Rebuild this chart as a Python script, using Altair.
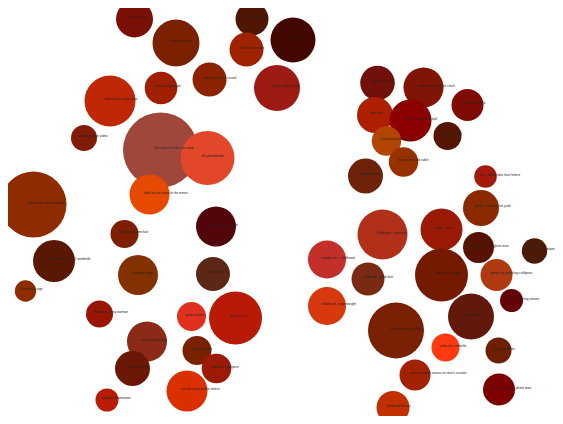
import altair as alt
import pandas as pd

# objects from Amélie, placed (pixel coords of the page)
labels = [
    "mother's urn", "mother's purse", "father's garden", "father's tool kit",
    "father's suitcase", "bobet biscuit tin reveal", "father's table bench",
    "palace video tape", "walls of the peep show", "waiting palace video",
    "the concert in the sex shop", "the photobooth", "label on the wood in the metro",
    "table at the two windmills", "photo in the station", "Collignon's armchair",
    "cigarette booth at 2 windmills", "costume shop", "café coffee", "2 windmills sign",
    "Bretodeau's toy woman", "pasta shakers", "grocer's fruit", "nino's bicycle bag",
    "book of poetry", "collignon's peppers", "nino's pajamas",
    "tea for chatting love letters", "collignon's tomatoes",
    "kitchen floor", "amélie's living room clock", "living room table", "front door",
    "amélie's bedroom wall", "bathroom wall", "living room wallpaper",
    "living room side table", "bedroom walls", "zip - writing fake love letters",
    "jacket - montmartre park", "childhood - swimsuit", "toilet - work",
    "sweater - with glass man", "hat at train station", "raspberries - childhood",
    "amélie's cardigan", "childhood - plaid skirt", "gloves for pranking collignon",
    "childhood - paperweight", "dress - skipping stones", "lace blouse",
    "amélie's beating heart", "polka dot umbrella", "striped sweater",
    "sweater amélie wears on nino's scooter", "beret - chasing photo man",
    "buttoned blouse",
]
xs = [134.5, 176, 252, 293, 246.5, 209.5, 277, 161, 110, 84, 160.5, 207.5, 149.5,
      33.5, 216, 124.5, 54, 138, 213, 25.5, 99.5, 191.5, 235.5, 147, 197, 216.5,
      132.5, 187, 107,
      377.5, 423.5, 467.5, 375, 410.5, 447.5, 386.5, 403.5, 365.5, 485.5, 481,
      382.5, 441.5, 478.5, 534.5, 327, 441.5, 368, 496.5, 327, 511.5, 471, 396,
      445.5, 498.5, 415, 499, 393]
ys = [19, 43, 19, 40, 49.5, 79.5, 88, 88, 101, 138, 150, 158, 194.5, 204.5, 226.5,
      234, 261, 275, 274, 291, 314, 316.5, 318, 341.5, 350.5, 368.5, 368.5, 391, 400,
      83, 87.5, 105, 115, 120.5, 136, 141, 162, 176, 176.5, 208, 234.5, 229.5,
      247.5, 251, 259.5, 275, 279, 275, 306, 300.5, 316.5, 330.5, 347.5, 350.5,
      375, 389.5, 407.5]
radii = [18.5, 23.5, 16.5, 22.5, 17, 17, 23, 16.3, 25.5, 13, 37.5, 27, 20, 33, 20,
         14, 21, 20, 17, 10.7, 13.5, 14.5, 26.5, 20, 14.5, 14.8, 17.5, 20.5, 11.5,
         17.3, 20, 16, 18, 21, 14, 14.7, 14.7, 17.5, 11.3, 18, 25, 21, 15.5, 12.7,
         19, 26.5, 16.5, 16, 19, 11.5, 23, 28, 14, 13, 15.5, 16, 16.5]
colours = ["#7a0f05", "#7b2000", "#4f1602", "#420800", "#a02300", "#8c2200",
           "#9c1a12", "#9f2000", "#c02707", "#801b05", "#a0473c", "#e2472a",
           "#e64a00", "#8e2b00", "#52060c", "#7d1f00", "#5a1802", "#843100",
           "#5c2815", "#8d2d00", "#9a1503", "#e0301e", "#b81a05", "#8a2a17",
           "#7a2200", "#9c1a06", "#6a1705", "#dc2f00", "#b81c05",
           "#72100a", "#801505", "#800b05", "#ae1f02", "#8c0000", "#561500",
           "#b34504", "#973200", "#6e2208", "#a3190a", "#8a2a00", "#b2301a",
           "#9a1a05", "#561302", "#4e1a08", "#c42f2a", "#741a00", "#7a2a12",
           "#b03a10", "#d8380e", "#650004", "#62180a", "#7a2004", "#ff3a10",
           "#6e1f00", "#a22200", "#7d0000", "#c03000"]

df = pd.DataFrame({"label": labels, "x": xs, "y": ys, "r": radii,
                   "order": list(range(len(labels)))})

# page has an 8px margin; keep the whole chart inside the window
W, H = 547, 408
x = alt.X("x:Q", scale=alt.Scale(domain=[8, 8 + W]), axis=None)
y = alt.Y("y:Q", scale=alt.Scale(domain=[8, 8 + H], reverse=True), axis=None)

# vega's circle symbol has radius sqrt(size)/2
base = alt.Chart(df).transform_calculate(area="4 * datum.r * datum.r")

bubbles = base.mark_circle(opacity=1, clip=False).encode(
    x=x, y=y,
    size=alt.Size("area:Q", scale=None, legend=None),
    color=alt.Color("label:N", scale=alt.Scale(domain=labels, range=colours), legend=None),
    order="order:Q",
)

text = base.mark_text(align="left", baseline="middle", dx=-6, dy=-2,
                      fontSize=3.3, font="Arial", color="#222").encode(
    x=x, y=y, text="label:N",
)

chart = (bubbles + text).properties(
    width=W, height=H, padding=0, autosize="none"
).configure_view(stroke=None)

chart.save("out.html", embed_options={"renderer": "svg", "actions": False})
